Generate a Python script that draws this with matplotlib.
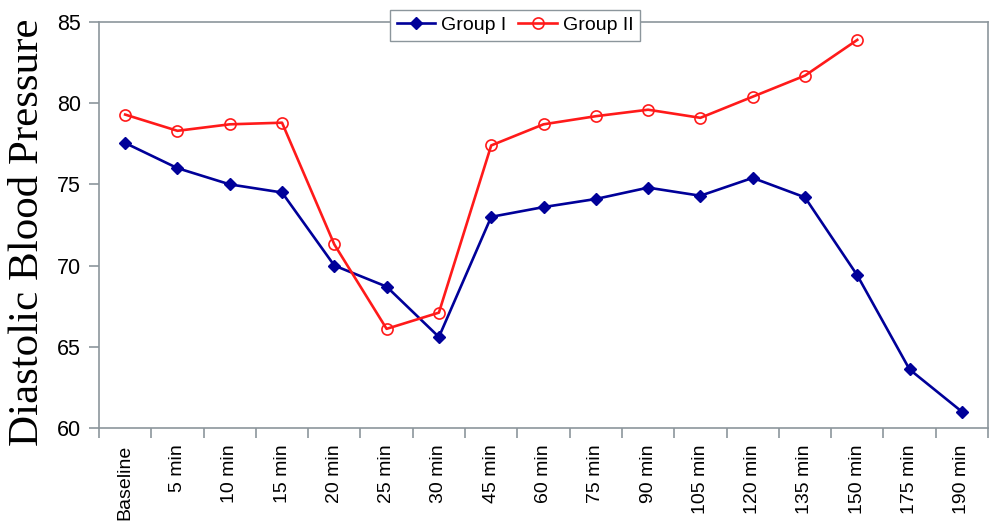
''' ########################### OVERVIEW ########################### '''
'''
Diastolic blood pressure over time for two groups, line chart
'''

''' ########################### IMPORT MODULES ########################### '''
import numpy as np
import matplotlib
matplotlib.use( 'Agg' )
import matplotlib.pyplot as pl


''' ########################### USER-DEFINED ########################### '''
times = [ 'Baseline', '5 min', '10 min', '15 min', '20 min', '25 min', '30 min',
    '45 min', '60 min', '75 min', '90 min', '105 min', '120 min', '135 min',
    '150 min', '175 min', '190 min' ]

group_1 = [ 77.55, 76.0, 75.0, 74.5, 70.0, 68.7, 65.6, 73.0, 73.6, 74.1, 74.8,
    74.3, 75.4, 74.2, 69.4, 63.6, 61.0 ]
# group II stops after 150 min
group_2 = [ 79.3, 78.3, 78.7, 78.8, 71.3, 66.1, 67.1, 77.4, 78.7, 79.2, 79.6,
    79.1, 80.4, 81.7, 83.9 ]

leg_ents = [ 'Group I', 'Group II' ]
y_lab = 'Diastolic Blood Pressure'
y_lims, y_ticks = [ 60, 85 ], [ 60, 65, 70, 75, 80, 85 ]

cols = [ '#000099', '#ff1a1a' ]
spine_col = '#8c969c'
width = 1.9
sans = [ 'Liberation Sans', 'DejaVu Sans' ]
serif = [ 'Liberation Serif', 'DejaVu Serif' ]


''' ########################### MAIN SCRIPT ########################### '''

x = np.arange( len( times ) )

pl.close( 'all' )
fig = pl.figure( figsize = ( 10, 5.25 ), dpi = 100 )
ax0 = fig.add_axes( [ 0.099, 0.185, 0.889, 0.773 ] )

ax0.plot( x[:len( group_1 )], group_1, color = cols[0], lw = width,
    marker = 'D', ms = 6.5, mfc = cols[0], mec = cols[0], label = leg_ents[0] )
ax0.plot( x[:len( group_2 )], group_2, color = cols[1], lw = width,
    marker = 'o', ms = 8, mfc = 'none', mec = cols[1], mew = 1.2,
    label = leg_ents[1] )

ax0.set_xlim( -0.5, len( times ) - 0.5 )
ax0.set_ylim( y_lims )
ax0.set_yticks( y_ticks )
ax0.set_yticklabels( [ str( t ) for t in y_ticks ], family = sans, fontsize = 15.5 )

# labels sit at categories, tick marks sit between them
ax0.set_xticks( x )
ax0.set_xticklabels( times, rotation = 90, family = sans, fontsize = 14 )
ax0.set_xticks( np.arange( -0.5, len( times ), 1 ), minor = True )
ax0.tick_params( axis = 'x', which = 'major', length = 0, pad = 12 )
ax0.tick_params( axis = 'x', which = 'minor', length = 7, color = spine_col,
    width = 1.2 )
ax0.tick_params( axis = 'y', length = 7, color = spine_col, width = 1.2,
    pad = 6 )

for s in ax0.spines.values():
    s.set_color( spine_col )
    s.set_linewidth( 1.2 )

fig.text( 0.028, 0.558, y_lab, rotation = 90, ha = 'center', va = 'center',
    family = serif, fontsize = 31 )

leg = ax0.legend( loc = 'center', bbox_to_anchor = ( 0.515, 0.952 ),
    bbox_transform = fig.transFigure, ncol = 2, frameon = True, fancybox = False,
    prop = { 'family': sans, 'size': 14 }, handlelength = 2.0,
    handletextpad = 0.3, columnspacing = 0.6, borderpad = 0.35,
    borderaxespad = 0 )
leg.get_frame().set_edgecolor( spine_col )
leg.get_frame().set_linewidth( 1.0 )
leg.get_frame().set_alpha( 1 )

fig.savefig( 'out.png', dpi = 100 )
